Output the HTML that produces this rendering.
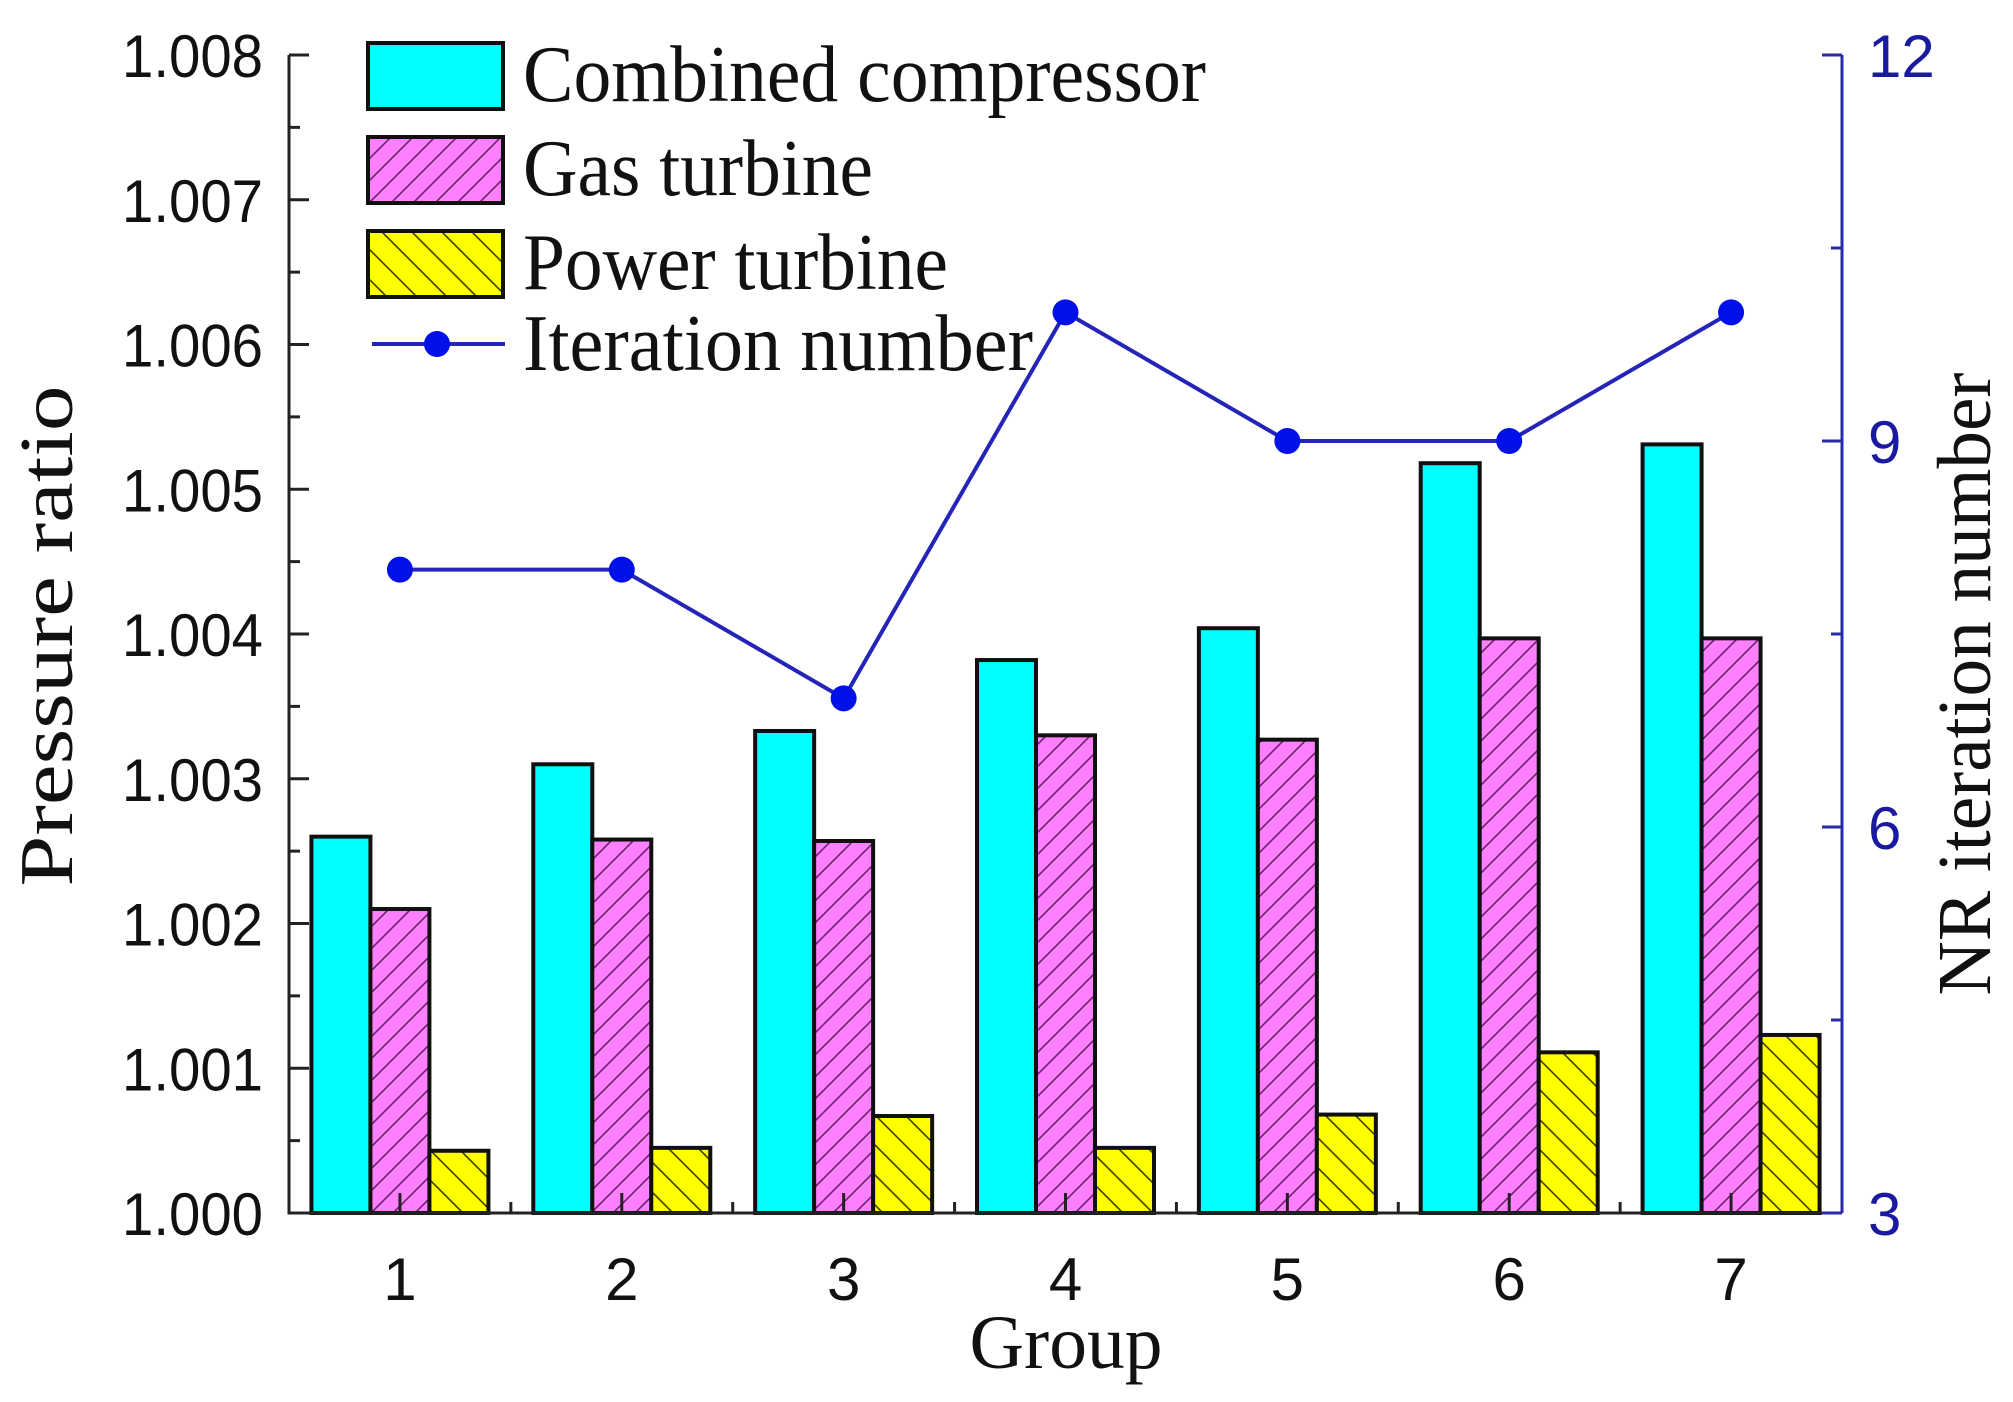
<!DOCTYPE html>
<html><head><meta charset="utf-8"><style>
html,body{margin:0;padding:0;background:#fff;}
svg{display:block;}
</style></head><body>
<svg id="chart" width="2013" height="1402" viewBox="0 0 2013 1402" xmlns="http://www.w3.org/2000/svg">
<defs>
<pattern id="hatchM" patternUnits="userSpaceOnUse" width="22" height="22" patternTransform="rotate(0)">
<rect width="22" height="22" fill="#ff80ff"/>
<path d="M-2,24 L24,-2 M-13,13 L13,-13 M9,35 L35,9" stroke="#702070" stroke-width="1.6"/>
</pattern>
<pattern id="hatchY" patternUnits="userSpaceOnUse" width="30" height="30">
<rect width="30" height="30" fill="#ffff00"/>
<path d="M-2,-2 L32,32 M-17,13 L17,47 M13,-17 L47,17" stroke="#404000" stroke-width="1.6"/>
</pattern>
</defs>
<g id="plot"></g>
</svg>
<script>
const groups = ["1","2","3","4","5","6","7"];
const compressor = [1.00260, 1.00310, 1.00333, 1.00382, 1.00404, 1.00518, 1.00531];
const gasTurbine = [1.00210, 1.00258, 1.00257, 1.00330, 1.00327, 1.00397, 1.00397];
const powerTurbine = [1.00043, 1.00045, 1.00067, 1.00045, 1.00068, 1.00111, 1.00123];
const iterations = [8, 8, 7, 10, 9, 9, 10];
const leftTicks = ["1.000","1.001","1.002","1.003","1.004","1.005","1.006","1.007","1.008"];
const rightTicks = [3, 6, 9, 12];

const NS = "http://www.w3.org/2000/svg";
const g = document.getElementById("plot");
const X0 = 289, X1 = 1842, Y0 = 1213, Y1 = 55;
const yMin = 1.000, yMax = 1.008, rMin = 3, rMax = 12;
function xS(i){ return X0 + (i + 0.5) * (X1 - X0) / groups.length; }
function yS(v){ return Y0 - (v - yMin) / (yMax - yMin) * (Y0 - Y1); }
function rS(v){ return Y0 - (v - rMin) / (rMax - rMin) * (Y0 - Y1); }
function mk(tag, attrs, parent){
  const e = document.createElementNS(NS, tag);
  for (const k in attrs) e.setAttribute(k, attrs[k]);
  (parent || g).appendChild(e);
  return e;
}
const BW = 59;
const series = [
  {vals: compressor, fill: "#00ffff", name: "compressor"},
  {vals: gasTurbine, fill: "url(#hatchM)", name: "gas-turbine"},
  {vals: powerTurbine, fill: "url(#hatchY)", name: "power-turbine"}
];
series.forEach((s, si) => {
  s.vals.forEach((v, i) => {
    const x = xS(i) + (si - 1.5) * BW;
    const y = yS(v);
    const r = mk("rect", {x: x, y: y, width: BW, height: Y0 - y, fill: s.fill, stroke: "#101010", "stroke-width": 4});
    
    
  });
});
// axes
let ax = mk("path", {d: `M${X0},${Y1} L${X0},${Y0} L${X1},${Y0}`, stroke: "#222", "stroke-width": 3, fill: "none"});


let rax = mk("line", {x1: X1, y1: Y1, x2: X1, y2: Y0, stroke: "#2a2aa8", "stroke-width": 3});


// left ticks
leftTicks.forEach((t, i) => {
  const v = parseFloat(t), y = yS(v);
  mk("line", {x1: X0, y1: y, x2: X0 + 20, y2: y, stroke: "#222", "stroke-width": 3});
  if (i < leftTicks.length - 1) {
    const ym = yS(v + 0.0005);
    mk("line", {x1: X0, y1: ym, x2: X0 + 11, y2: ym, stroke: "#222", "stroke-width": 3});
  }
  const tx = mk("text", {x: 263, y: y + 22, "text-anchor": "end", "font-family": "Liberation Sans, sans-serif", "font-size": 60, textLength: 141, lengthAdjust: "spacingAndGlyphs", fill: "#111"});
  tx.textContent = t;
  
  
});
// right ticks
rightTicks.forEach((t, i) => {
  const y = rS(t);
  mk("line", {x1: X1, y1: y, x2: X1 - 20, y2: y, stroke: "#2a2aa8", "stroke-width": 3});
  if (i < rightTicks.length - 1) {
    const ym = rS(t + 1.5);
    mk("line", {x1: X1, y1: ym, x2: X1 - 11, y2: ym, stroke: "#2a2aa8", "stroke-width": 3});
  }
  const tx = mk("text", {x: 1868, y: y + 22, "font-family": "Liberation Sans, sans-serif", "font-size": 60, fill: "#1a1aa0"});
  tx.textContent = String(t);
  
  
});
// x ticks
groups.forEach((gname, i) => {
  const x = xS(i);
  mk("line", {x1: x, y1: Y0, x2: x, y2: Y0 - 20, stroke: "#222", "stroke-width": 3});
  const xb = X0 + (i + 1) * (X1 - X0) / groups.length;
  if (i < groups.length - 1) mk("line", {x1: xb, y1: Y0, x2: xb, y2: Y0 - 11, stroke: "#222", "stroke-width": 3});
  const tx = mk("text", {x: x, y: 1300, "text-anchor": "middle", "font-family": "Liberation Sans, sans-serif", "font-size": 60, fill: "#111"});
  tx.textContent = gname;
  
  
});
// iteration line
const pts = iterations.map((v, i) => xS(i) + "," + rS(v)).join(" ");
const pl = mk("polyline", {points: pts, fill: "none", stroke: "#2424b8", "stroke-width": 4});


iterations.forEach((v, i) => {
  const c = mk("circle", {cx: xS(i), cy: rS(v), r: 13, fill: "#0010e8"});
  
  
});
// titles
const serif = "Liberation Serif, serif";
let t1 = mk("text", {x: 0, y: 0, transform: "translate(72,636) rotate(-90)", "text-anchor": "middle", "font-family": serif, "font-size": 76, textLength: 501, lengthAdjust: "spacingAndGlyphs", fill: "#111"});
t1.textContent = "Pressure ratio";


let t2 = mk("text", {x: 0, y: 0, transform: "translate(1990,684) rotate(-90)", "text-anchor": "middle", "font-family": serif, "font-size": 76, textLength: 623, lengthAdjust: "spacingAndGlyphs", fill: "#111"});
t2.textContent = "NR iteration number";


let t3 = mk("text", {x: 1066, y: 1368, "text-anchor": "middle", "font-family": serif, "font-size": 76, textLength: 193, lengthAdjust: "spacingAndGlyphs", fill: "#111"});
t3.textContent = "Group";


// legend
const leg = [
  {label: "Combined compressor", fill: "#00ffff", y: 43, w: 683},
  {label: "Gas turbine", fill: "url(#hatchM)", y: 137, w: 350},
  {label: "Power turbine", fill: "url(#hatchY)", y: 231, w: 425}
];
leg.forEach(l => {
  const r = mk("rect", {x: 368, y: l.y, width: 135, height: 66, fill: l.fill, stroke: "#101010", "stroke-width": 4});
  
  
  const tx = mk("text", {x: 523, y: l.y + 58, "font-family": serif, "font-size": 80, textLength: l.w, lengthAdjust: "spacingAndGlyphs", fill: "#111"});
  tx.textContent = l.label;
  
  
});
const ll = mk("line", {x1: 372, y1: 344, x2: 505, y2: 344, stroke: "#2424b8", "stroke-width": 4});


const lc = mk("circle", {cx: 437, cy: 344, r: 13, fill: "#0010e8"});


const lt = mk("text", {x: 523, y: 370, "font-family": serif, "font-size": 80, textLength: 510, lengthAdjust: "spacingAndGlyphs", fill: "#111"});
lt.textContent = "Iteration number";


</script>
</body></html>
